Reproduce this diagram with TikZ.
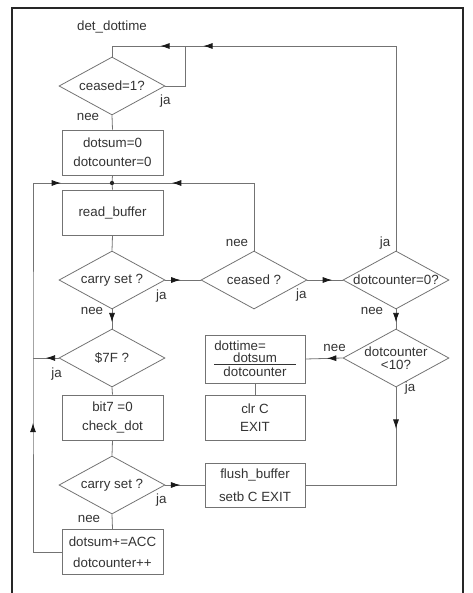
\documentclass[tikz,border=0pt]{standalone}
\usepackage{fontspec}
\setmainfont{Liberation Sans}
\usetikzlibrary{arrows.meta,shapes.geometric,decorations.markings}

\begin{document}
\begin{tikzpicture}[x=0.75pt,y=-0.75pt,
    every node/.style={font=\fontsize{10}{14}\selectfont,text=black!80},
    box/.style={draw=black!55,line width=0.6pt,align=center,minimum width=75.75pt,minimum height=33.75pt,inner sep=2pt},
    decision/.style={draw=black!55,line width=0.6pt,diamond,minimum width=79.5pt,minimum height=43.5pt,inner sep=0pt},
    lbl/.style={inner sep=0pt},
    flow/.style={color=black!55,line width=0.6pt},
    arrowat/.style={postaction={decorate,decoration={markings,
        mark=at position #1 with {\arrow[black!90]{Latex[length=7pt,width=4.5pt]}}}}},
  ]
  \useasboundingbox (0,0) rectangle (472,593);
  % frame
  \draw[black!85,line width=1.2pt] (12,593) -- (12,8) -- (463,8) -- (463,593);

  % main column
  \node[lbl] (title) at (112,27) {det\_dottime};
  \coordinate (entry) at (112,46);
  \coordinate (c1j) at (185,46);
  \node[decision,label={[name=c1t]center:ceased=1?}] (c1) at (112,86) {};
  \node[box] (init) at (112.5,152.5) {dotsum=0\\dotcounter=0};
  \coordinate (jn) at (112,183);
  \node[box] (rb) at (112.5,212.5) {read\_buffer};
  \node[decision,label={[name=cs1t]center:carry set ?}] (cs1) at (112,280) {};
  \node[decision,label={[name=f7t]center:\$7F ?}] (f7) at (112,358) {};
  \coordinate (lx) at (33,358);
  \node[box] (bit) at (112.5,417.5) {bit7 =0\\check\_dot};
  \node[decision,label={[name=cs2t]center:carry set ?}] (cs2) at (112,485) {};
  \node[box] (acc) at (112.5,552) {dotsum+=ACC\\[2pt]dotcounter++};

  % right part
  \node[decision,label={[name=cst]center:ceased ?}] (ceased) at (254,280) {};
  \node[decision,label={[name=czt]center:dotcounter=0?}] (cz) at (396,280) {};
  \node[decision,label={[name=c10t,align=center]center:{dotcounter\\[-4pt]<10?}}] (c10) at (396,358) {};
  \node[box,minimum width=75pt,minimum height=36pt] (dt) at (255,359)
    {\makebox[61pt][l]{dottime=}\\[-5pt]dotsum\\[-3.5pt]%
     \makebox[61pt][l]{\rule[9pt]{61pt}{0.5pt}\hspace{-61pt}\makebox[61pt]{dotcounter}}};
  \node[box,minimum width=75pt] (clr) at (255,417.5) {clr C\\EXIT};
  \node[box,minimum width=75pt,minimum height=33pt] (flush) at (255,485) {flush\_buffer\\[3pt]setb C EXIT};

  % ja / nee
  \node[lbl] (c1ja) at ([shift={(0,15)}]c1.east) {ja};
  \node[lbl] (c1nee) at ([shift={(-24,2)}]c1.south) {nee};
  \node[lbl] (cs1ja) at ([shift={(-4,16)}]cs1.east) {ja};
  \node[lbl] (cs1nee) at ([shift={(-20,2)}]cs1.south) {nee};
  \node[lbl] (f7ja) at ([shift={(-2,16)}]f7.west) {ja};
  \node[lbl] (cs2ja) at ([shift={(-4,15)}]cs2.east) {ja};
  \node[lbl] (cs2nee) at ([shift={(-23,5)}]cs2.south) {nee};
  \node[lbl] (csnee) at ([shift={(-17,-8)}]ceased.north) {nee};
  \node[lbl] (csja) at ([shift={(-6,15)}]ceased.east) {ja};
  \node[lbl] (czja) at ([shift={(-11,-8)}]cz.north) {ja};
  \node[lbl] (cznee) at ([shift={(-24,2)}]cz.south) {nee};
  \node[lbl] (c10nee) at ([shift={(-8,-10)}]c10.west) {nee};
  \node[lbl] (c10ja) at ([shift={(14,1)}]c10.south) {ja};

  % connectors
  \draw[flow,arrowat=0.796,arrowat=0.882] (cz.north) |- (entry) -- (c1.north);
  \draw[flow] (c1.east) -| (c1j);
  \draw[flow] (c1.south) -- (init.north);
  \draw[flow] (init.south) -- (jn);
  \draw[flow] (jn) -- (rb.north);
  \draw[flow] (rb.south) -- (cs1.north);
  \draw[flow,arrowat=0.43] (cs1.east) -- (ceased.west);
  \draw[flow,arrowat=0.714] (ceased.north) |- (jn);
  \draw[flow,arrowat=0.7] (ceased.east) -- (cz.west);
  \draw[flow,arrowat=0.67] (cs1.south) -- (f7.north);
  \draw[flow,arrowat=0.5] (f7.west) -- (lx);
  \draw[flow] (f7.south) -- (bit.north);
  \draw[flow] (bit.south) -- (cs2.north);
  \draw[flow,arrowat=0.38] (cs2.east) -- (flush.west);
  \draw[flow] (cs2.south) -- (acc.north);
  \draw[flow,arrowat=0.331,arrowat=0.893] (acc.west) -| (lx) -- (lx |- jn) -- (jn);
  \draw[flow,arrowat=0.67] (cz.south) -- (c10.north);
  \draw[flow,arrowat=0.42] (c10.west) -- (dt.east);
  \draw[flow] (dt.south) -- (clr.north);
  \draw[flow,arrowat=0.22] (c10.south) |- (flush.east);
  \fill[black!85] (jn) circle (1.6pt);
\end{tikzpicture}
\end{document}
